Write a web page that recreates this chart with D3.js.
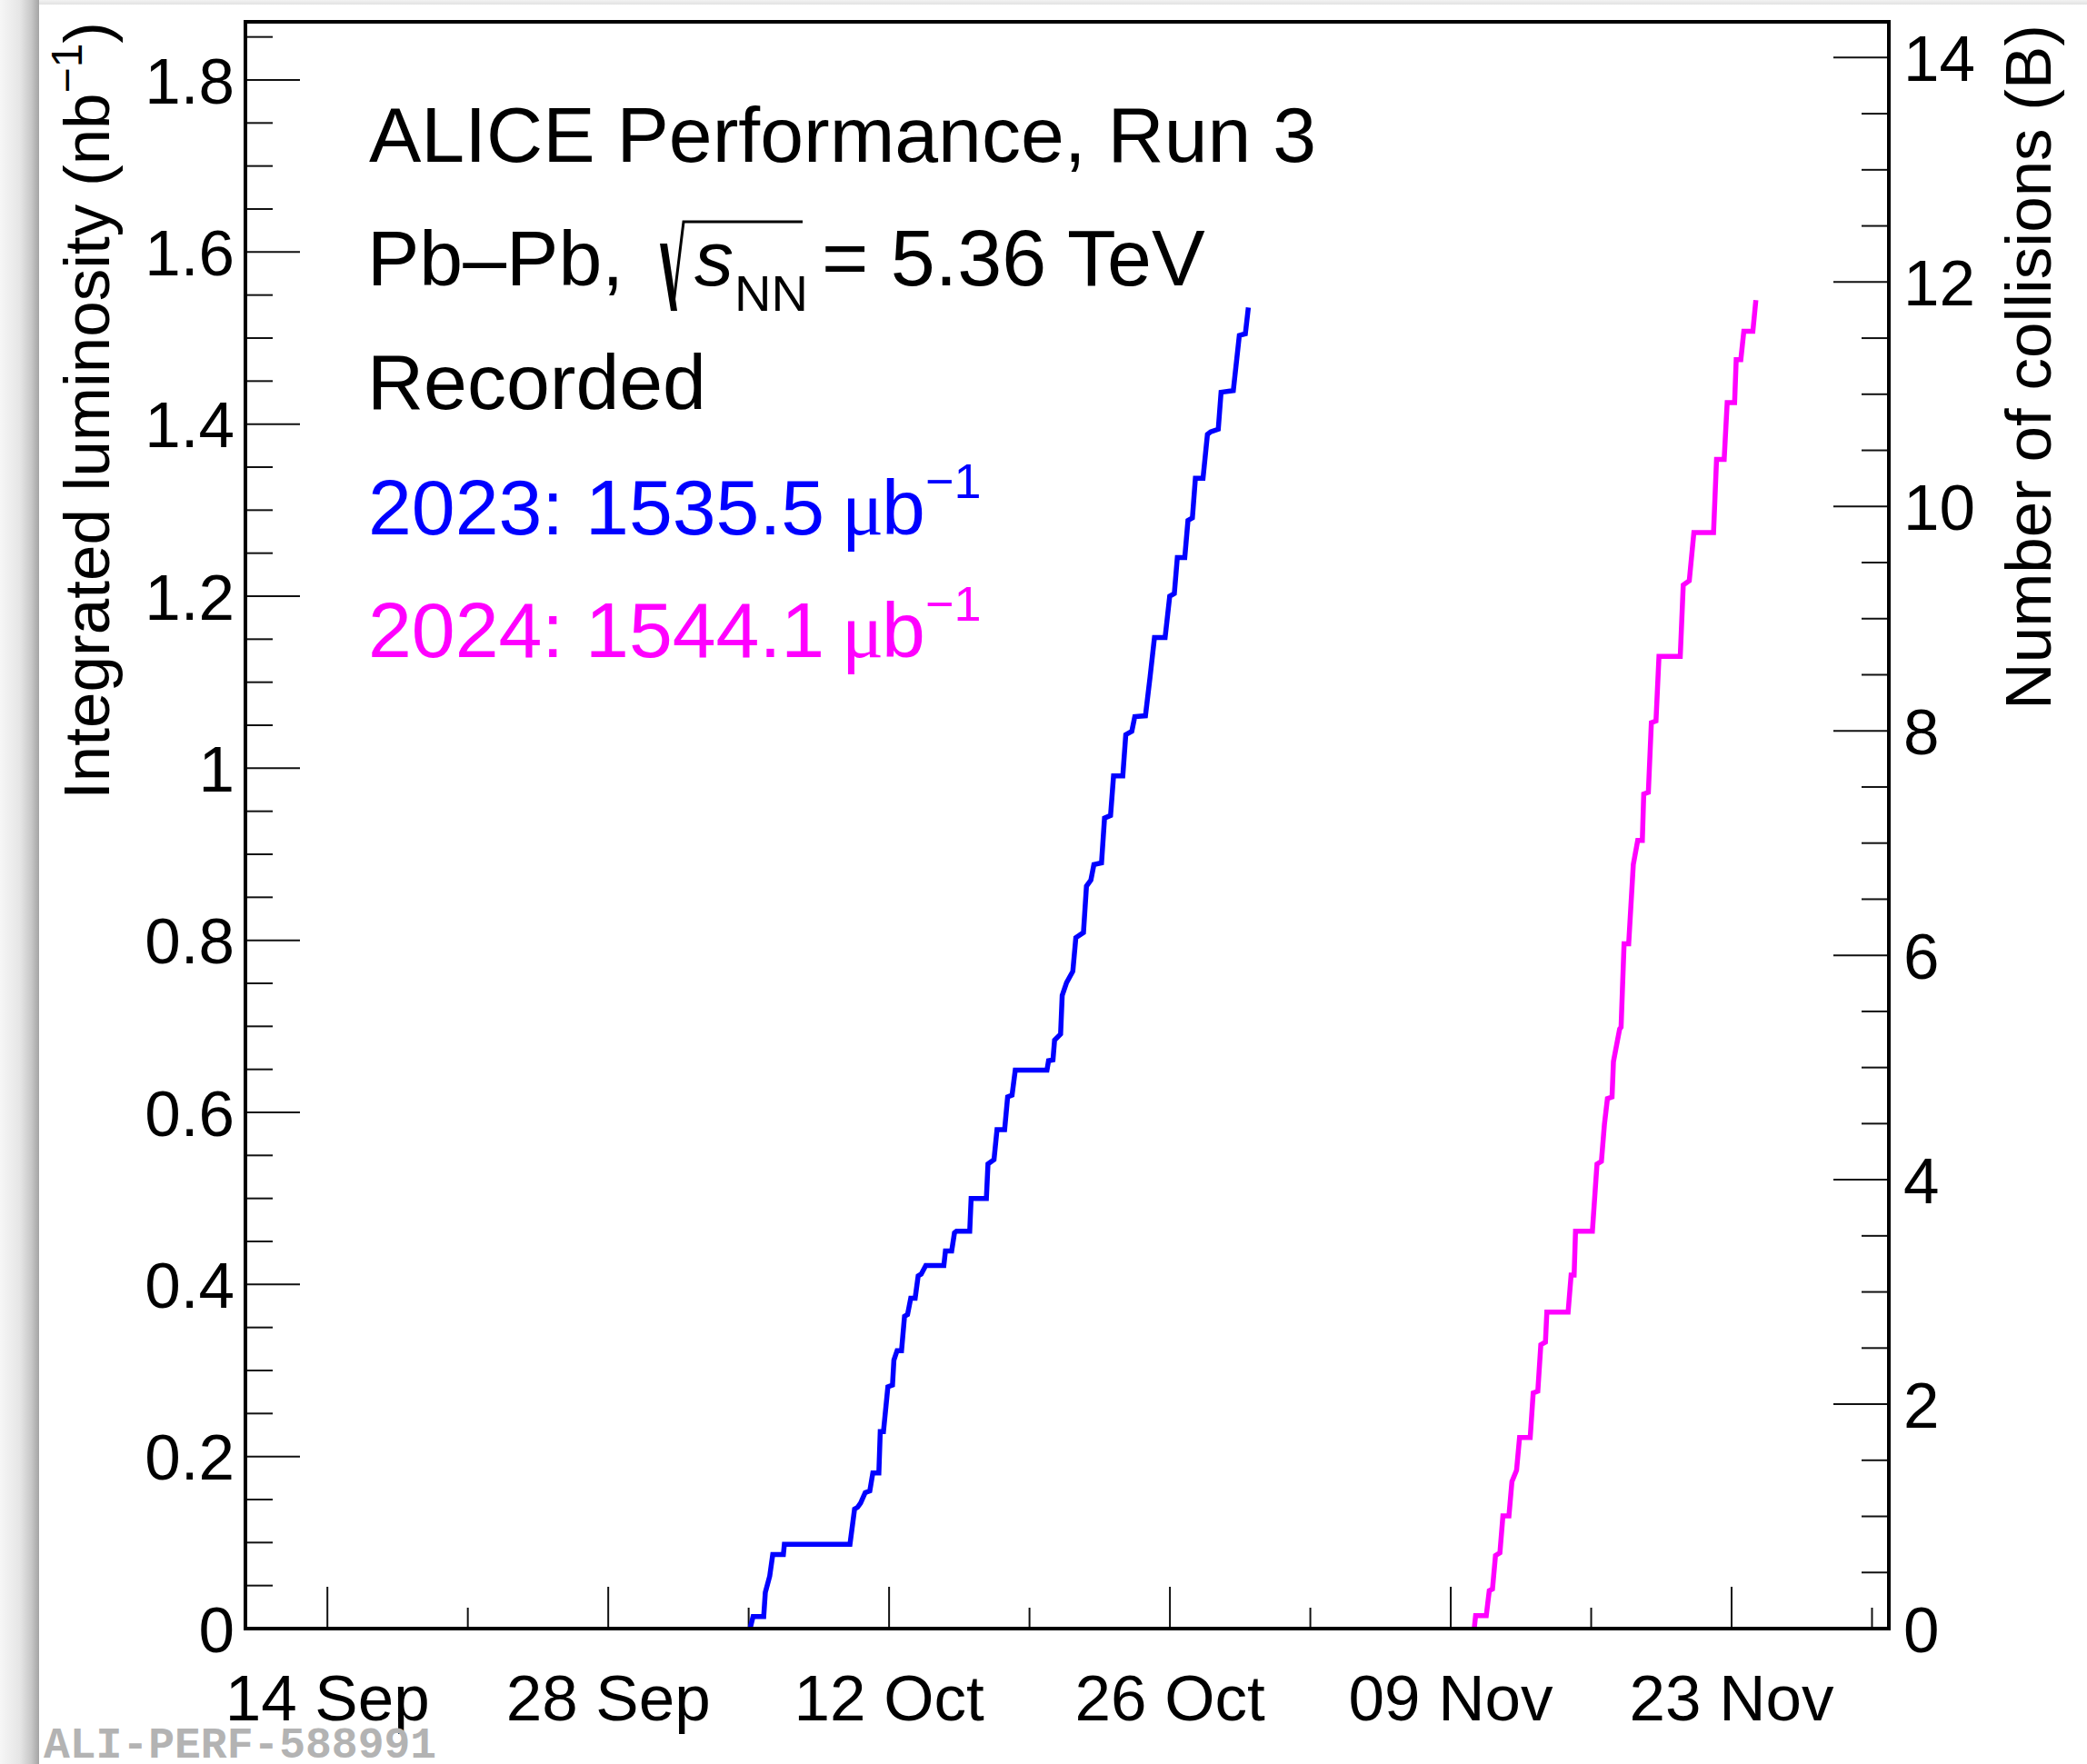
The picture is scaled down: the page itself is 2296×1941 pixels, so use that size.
<!DOCTYPE html>
<html><head><meta charset="utf-8">
<script src="https://cdn.jsdelivr.net/npm/d3@7"></script>
<style>html,body{margin:0;padding:0;background:#fff;} svg{display:block;}</style>
</head><body>
<svg id="c" width="2296" height="1941"></svg>
<script>
// ---- data (dates as "MM-DD.frac" = fractional day of month; values in µb^-1) ----
const dates2023 = ["10-05.07","10-05.22","10-05.75","10-05.83","10-06.05","10-06.20","10-06.73","10-06.78","10-10.05","10-10.28",
"10-10.43","10-10.58","10-10.81","10-11.04","10-11.19","10-11.49","10-11.56","10-11.72","10-11.94","10-12.17",
"10-12.24","10-12.40","10-12.62","10-12.77","10-12.92","10-13.08","10-13.30","10-13.45","10-13.60","10-13.83",
"10-14.73","10-14.81","10-15.12","10-15.26","10-15.36","10-16.02","10-16.09","10-16.85","10-16.93","10-17.23",
"10-17.38","10-17.76","10-17.91","10-18.13","10-18.29","10-19.87","10-19.95","10-20.17","10-20.25","10-20.55",
"10-20.63","10-20.85","10-21.16","10-21.31","10-21.69","10-21.84","10-22.06","10-22.21","10-22.59","10-22.74",
"10-23.04","10-23.19","10-23.65","10-23.80","10-24.10","10-24.25","10-24.78","10-25.01","10-25.23","10-25.76",
"10-25.99","10-26.22","10-26.37","10-26.74","10-26.90","10-27.12","10-27.27","10-27.65","10-27.87","10-28.03",
"10-28.41","10-28.55","10-29.16","10-29.46","10-29.76","10-29.91"];
const lumi2023 = [0,14,14,42,61,86,86,98,98,139,
141,146,158,160,181,181,229,229,281,283,
312,323,323,363,365,384,384,410,412,422,
422,439,439,460,462,462,500,500,540,545,
580,580,618,620,649,649,660,661,684,691,
736,751,764,803,809,863,870,888,890,942,
945,991,991,1039,1043,1060,1061,1106,1152,1152,
1200,1203,1245,1245,1288,1291,1337,1337,1388,1391,
1394,1437,1439,1503,1505,1535.5];
const dates2024 = ["11-10.17","11-10.24","11-10.77","11-10.92","11-11.08","11-11.23","11-11.45","11-11.60","11-11.90","11-12.05",
"11-12.28","11-12.43","11-12.96","11-13.11","11-13.34","11-13.49","11-13.72","11-13.79","11-14.85","11-15.00",
"11-15.15","11-15.22","11-16.06","11-16.29","11-16.51","11-16.66","11-16.81","11-17.04","11-17.11","11-17.42",
"11-17.49","11-17.64","11-17.87","11-18.10","11-18.32","11-18.55","11-18.62","11-18.85","11-19.00","11-19.23",
"11-19.38","11-20.44","11-20.59","11-20.89","11-21.12","11-22.10","11-22.25","11-22.63","11-22.78","11-23.15",
"11-23.23","11-23.46","11-23.61","11-24.06","11-24.21"];
const lumi2024 = [0,15,15,44,46,85,88,131,131,171,
184,222,222,274,276,330,333,368,368,411,
411,462,462,540,543,586,616,618,659,697,
699,796,796,888,916,916,970,972,1053,1055,
1130,1130,1213,1218,1274,1274,1359,1359,1425,1425,
1475,1475,1508,1508,1544.1];
const seriesNames = ["2023","2024"];
const seriesTotals = ["1535.5","1544.1"];
const seriesColors = ["#0000ff","#ff00ff"];

const xDomain = ["09-09.913","11-30.839"];
const xMajorTicks = ["09-14","09-28","10-12","10-26","11-09","11-23"];
const xTickLabels = ["14 Sep","28 Sep","12 Oct","26 Oct","09 Nov","23 Nov"];
const xMinorTicks = ["09-21","10-05","10-19","11-02","11-16","11-30"];
const yLeftMax = 1.8676;
const yLeftTicks = [0,0.2,0.4,0.6,0.8,1,1.2,1.4,1.6,1.8];
const yLeftTickLabels = ["0","0.2","0.4","0.6","0.8","1","1.2","1.4","1.6","1.8"];
const crossSection = 7.667; // b  -> right axis in billions of collisions
const yRightTicks = [0,2,4,6,8,10,12,14];
const yRightTickLabels = ["0","2","4","6","8","10","12","14"];

// ---- layout ----
const W = 2296, H = 1941;
const F = {left:270, right:2078, top:24, bottom:1792};
const SANS = "'Liberation Sans', Arial, Helvetica, sans-serif";
const AX = 71, TX = 86;

const parseMD = s => { const m = +s.slice(0,2), d = +s.slice(3);
  return new Date(Date.UTC(2023, m-1, 1) + (d-1)*864e5); };

const svg = d3.select("#c");
const defs = svg.append("defs");
const g1 = defs.append("linearGradient").attr("id","shL").attr("x1","0").attr("x2","1").attr("y1","0").attr("y2","0");
[[0,"#f6f6f6"],[0.5,"#e6e6e6"],[0.8,"#c8c8c8"],[1,"#a4a4a4"]].forEach(([o,c])=>g1.append("stop").attr("offset",o).attr("stop-color",c));
const g2 = defs.append("linearGradient").attr("id","shT").attr("x1","0").attr("x2","0").attr("y1","0").attr("y2","1");
[[0,"#f2f2f2"],[1,"#e2e2e2"]].forEach(([o,c])=>g2.append("stop").attr("offset",o).attr("stop-color",c));

svg.append("rect").attr("width",W).attr("height",H).attr("fill","#fff");
svg.append("rect").attr("x",0).attr("y",0).attr("width",43).attr("height",H).attr("fill","url(#shL)");
svg.append("rect").attr("x",43).attr("y",0).attr("width",W-43).attr("height",5).attr("fill","url(#shT)");

const x = d3.scaleUtc().domain(xDomain.map(parseMD)).range([F.left, F.right]);
const yL = d3.scaleLinear().domain([0, yLeftMax]).range([F.bottom, F.top]);
const yR = d3.scaleLinear().domain([0, yLeftMax*crossSection]).range([F.bottom, F.top]);

// ---- ticks ----
const tickG = svg.append("g").attr("stroke","#111").attr("stroke-width",2);
d3.range(0.05, yLeftMax, 0.05).forEach(v => {
  const major = Math.abs(v/0.2 - Math.round(v/0.2)) < 1e-6;
  tickG.append("line").attr("x1",F.left).attr("x2",F.left + (major?60:30))
    .attr("y1",yL(v)).attr("y2",yL(v));
});
d3.range(0.5, yLeftMax*crossSection, 0.5).forEach(v => {
  const major = Math.abs(v/2 - Math.round(v/2)) < 1e-6;
  tickG.append("line").attr("x1",F.right).attr("x2",F.right - (major?61:30))
    .attr("y1",yR(v)).attr("y2",yR(v));
});
xMajorTicks.forEach(s => tickG.append("line").attr("x1",x(parseMD(s))).attr("x2",x(parseMD(s)))
  .attr("y1",F.bottom).attr("y2",F.bottom-46));
xMinorTicks.forEach(s => tickG.append("line").attr("x1",x(parseMD(s))).attr("x2",x(parseMD(s)))
  .attr("y1",F.bottom).attr("y2",F.bottom-23));

// ---- tick labels ----
const lab = svg.append("g").attr("font-family",SANS).attr("font-size",AX).attr("fill","#000");
yLeftTicks.forEach((v,i) => lab.append("text").attr("x",F.left-12).attr("y",yL(v)).attr("dy","0.36em")
  .attr("text-anchor","end").text(yLeftTickLabels[i]));
yRightTicks.forEach((v,i) => lab.append("text").attr("x",F.right+16).attr("y",yR(v)).attr("dy","0.36em")
  .attr("text-anchor","start").text(yRightTickLabels[i]));
xMajorTicks.forEach((s,i) => lab.append("text").attr("x",x(parseMD(s))).attr("y",1893)
  .attr("text-anchor","middle").text(xTickLabels[i]));

// ---- axis titles ----
const tl = lab.append("text").attr("transform","translate(120,24) rotate(-90)").attr("text-anchor","end");
tl.append("tspan").text("Integrated luminosity (nb");
tl.append("tspan").attr("font-size",48).attr("dy",-30).text("\u22121");
tl.append("tspan").attr("dy",30).text(")");
lab.append("text").attr("transform","translate(2256,27) rotate(-90)").attr("text-anchor","end")
  .text("Number of collisions (B)");

// ---- curves ----
const line = d3.line().x(d=>x(d.t)).y(d=>yL(d.v/1000)).curve(d3.curveLinear);
const series = [
  dates2023.map((s,i)=>({t:parseMD(s), v:lumi2023[i]})),
  dates2024.map((s,i)=>({t:parseMD(s), v:lumi2024[i]}))
];
series.forEach((d,i) => svg.append("path").datum(d).attr("d",line)
  .attr("fill","none").attr("stroke",seriesColors[i]).attr("stroke-width",5.5)
  .attr("stroke-linejoin","miter"));

// ---- frame ----
svg.append("rect").attr("x",F.left).attr("y",F.top).attr("width",F.right-F.left).attr("height",F.bottom-F.top)
  .attr("fill","none").attr("stroke","#000").attr("stroke-width",4);

// ---- text block ----
const T = svg.append("g").attr("font-family",SANS).attr("font-size",TX).attr("fill","#000");
T.append("text").attr("x",406).attr("y",178).text("ALICE Performance, Run 3");
T.append("text").attr("x",404).attr("y",314).text("Pb\u2013Pb,");
// radical sign
T.append("path").attr("d","M726,268 L734,268 L745,342 L738,342 Z").attr("fill","#000");
T.append("path").attr("d","M740,342 L752,244 L883,244").attr("fill","none")
  .attr("stroke","#000").attr("stroke-width",3).attr("stroke-linejoin","miter");
T.append("text").attr("x",764).attr("y",314).attr("font-style","italic").text("s");
T.append("text").attr("x",808).attr("y",342).attr("font-size",56).text("NN");
T.append("text").attr("x",904).attr("y",314).attr("font-size",88).text("= 5.36 TeV");
T.append("text").attr("x",404).attr("y",450).text("Recorded");
seriesNames.forEach((n,i) => {
  const y0 = 588 + i*135;
  const t = T.append("text").attr("y",y0).attr("fill",seriesColors[i]);
  t.append("tspan").attr("x",405).text(n + ": " + seriesTotals[i]);
  t.append("tspan").attr("x",926).attr("font-family","'Liberation Serif','DejaVu Serif',serif").text("\u03bc");
  t.append("tspan").attr("x",970).text("b");
  t.append("tspan").attr("x",1018).attr("font-size",54).attr("dy",-40).text("\u22121");
});

// ---- footer id ----
svg.append("text").attr("x",48).attr("y",1934).attr("font-family","'Liberation Mono','Courier New',monospace")
  .attr("font-weight","bold").attr("font-size",48).attr("fill","#b3b3b3").text("ALI-PERF-588991");
</script>
</body></html>
